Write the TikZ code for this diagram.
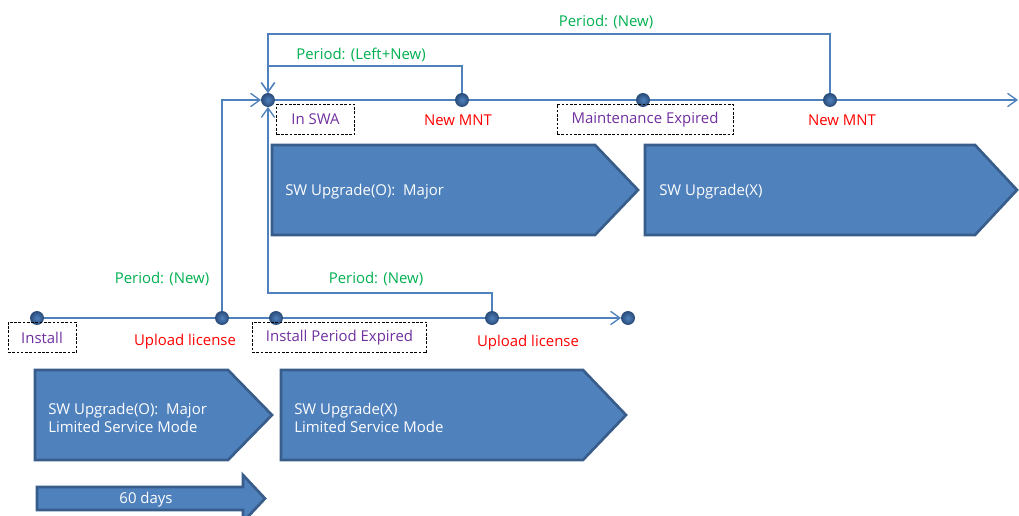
\documentclass[tikz,border=0pt]{standalone}
\usepackage{fontspec}
\setmainfont{Open Sans}
\usetikzlibrary{arrows.meta,positioning,backgrounds}
\definecolor{tline}{RGB}{79,129,189}
\definecolor{pfill}{RGB}{79,129,189}
\definecolor{pedge}{RGB}{56,93,138}
\definecolor{dotdark}{RGB}{44,78,125}
\definecolor{pgreen}{RGB}{0,176,80}
\definecolor{ered}{RGB}{255,0,0}
\definecolor{spurple}{RGB}{112,48,160}

\begin{document}
\begin{tikzpicture}[x=0.75pt,y=-0.75pt,
  font=\fontsize{11.2}{13.5}\selectfont,
  evt/.style={circle,inner sep=0pt,minimum size=9.8pt,draw=dotdark,line width=0.6pt,
    inner color=tline,outer color=dotdark},
  tl/.style={draw=tline,line width=1pt},
  ta/.style={tl,-{Straight Barb[length=7pt,width=10pt]}},
  stat/.style={draw=black,dash pattern=on 2pt off 1.2pt,line width=0.7pt,
    text=spurple,minimum height=23pt,inner xsep=0pt},
  per/.style={text=pgreen,yshift=-1.5pt},
  act/.style={text=ered,yshift=-1.5pt},
  intxt/.style={text=white,anchor=west,align=left,inner sep=0pt,yshift=-1.5pt}]
\clip (0,0) rectangle (1019,516);

% Helper macro: \phasebox{x1}{y1}{x2}{y2}{xtip}
\newcommand{\phasebox}[5]{%
  \filldraw[fill=pfill,draw=pedge,line width=2pt,line join=miter]
    (#1,#2) -- (#3,#2) -- (#5,{(#2+#4)/2}) -- (#3,#4) -- (#1,#4) -- cycle;
}

% Phases
\phasebox{272}{145}{595}{235}{638}
\phasebox{645}{145}{975}{235}{1017}
\phasebox{35}{370}{228}{460}{272}
\phasebox{281}{370}{583}{460}{626}
\filldraw[fill=pfill,draw=pedge,line width=2pt,line join=miter]
  (37,487) -- (243,487) -- (243,475) -- (265,498.5) -- (243,522)
  -- (243,510) -- (37,510) -- cycle;

\node[intxt] (swa) at (285,190) {SW Upgrade(O):\ \ Major};
\node[intxt] (swx) at (659,190) {SW Upgrade(X)};
\node[intxt] (lsm1) at (48,416) {SW Upgrade(O):\ \ Major\\Limited Service\ Mode};
\node[intxt] (lsm2) at (294,416) {SW Upgrade(X)\\Limited Service\ Mode};
\node[text=white] (days) at (146,500) {60 days};

% Events: top line
\node[evt] (hub) at (268,100) {};
\node[evt] (mnt1) at (462,100) {};
\node[evt] (mexp) at (643,100) {};
\node[evt] (mnt2) at (830,100) {};
\coordinate (tend) at (1018,100);

% Events: bottom line
\node[evt] (inst) at (37,318) {};
\node[evt] (up1) at (222,318) {};
\node[evt] (iexp) at (276,318) {};
\node[evt] (up2) at (492,318) {};
\node[evt] (bend) at (628,318) {};

% Corners
\coordinate (k1) at (268,66);
\coordinate (k2) at (268,34);
\coordinate (k3) at (268,293);

% Connectors
\begin{scope}[on background layer]
\draw[ta] (hub) -- (tend);
\draw[ta] (inst) -- (bend);
\end{scope}
\draw[ta] (up1) |- (hub);
\draw[ta] (mnt1) |- (k1) -- (hub);
\draw[ta] (mnt2) |- (k2) -- (hub);
\draw[ta] (up2) |- (k3) -- (hub);

% States
\node[stat,minimum width=51pt] (sinst) at (42,337.5) {Install};
\node[stat,minimum width=131pt] (sexp) at (339.5,337.5) {Install Period Expired};
\node[stat,minimum width=58pt] (sswa) at (315.5,119.5) {In SWA};
\node[stat,minimum width=132pt] (smnt) at (645,119.5) {Maintenance Expired};

% Actions
\node[act] (a1) at (185,340) {Upload license};
\node[act] (a2) at (528,341) {Upload license};
\node[act] (a3) at (458,118) {New MNT};
\node[act] (a4) at (842,118) {New MNT};

% Periods
\node[per] (p1) at (162,277) {Period: (New)};
\node[per] (p2) at (376,277) {Period: (New)};
\node[per] (p3) at (361,53) {Period: (Left+New)};
\node[per] (p4) at (606,20) {Period: (New)};
\end{tikzpicture}
\end{document}
